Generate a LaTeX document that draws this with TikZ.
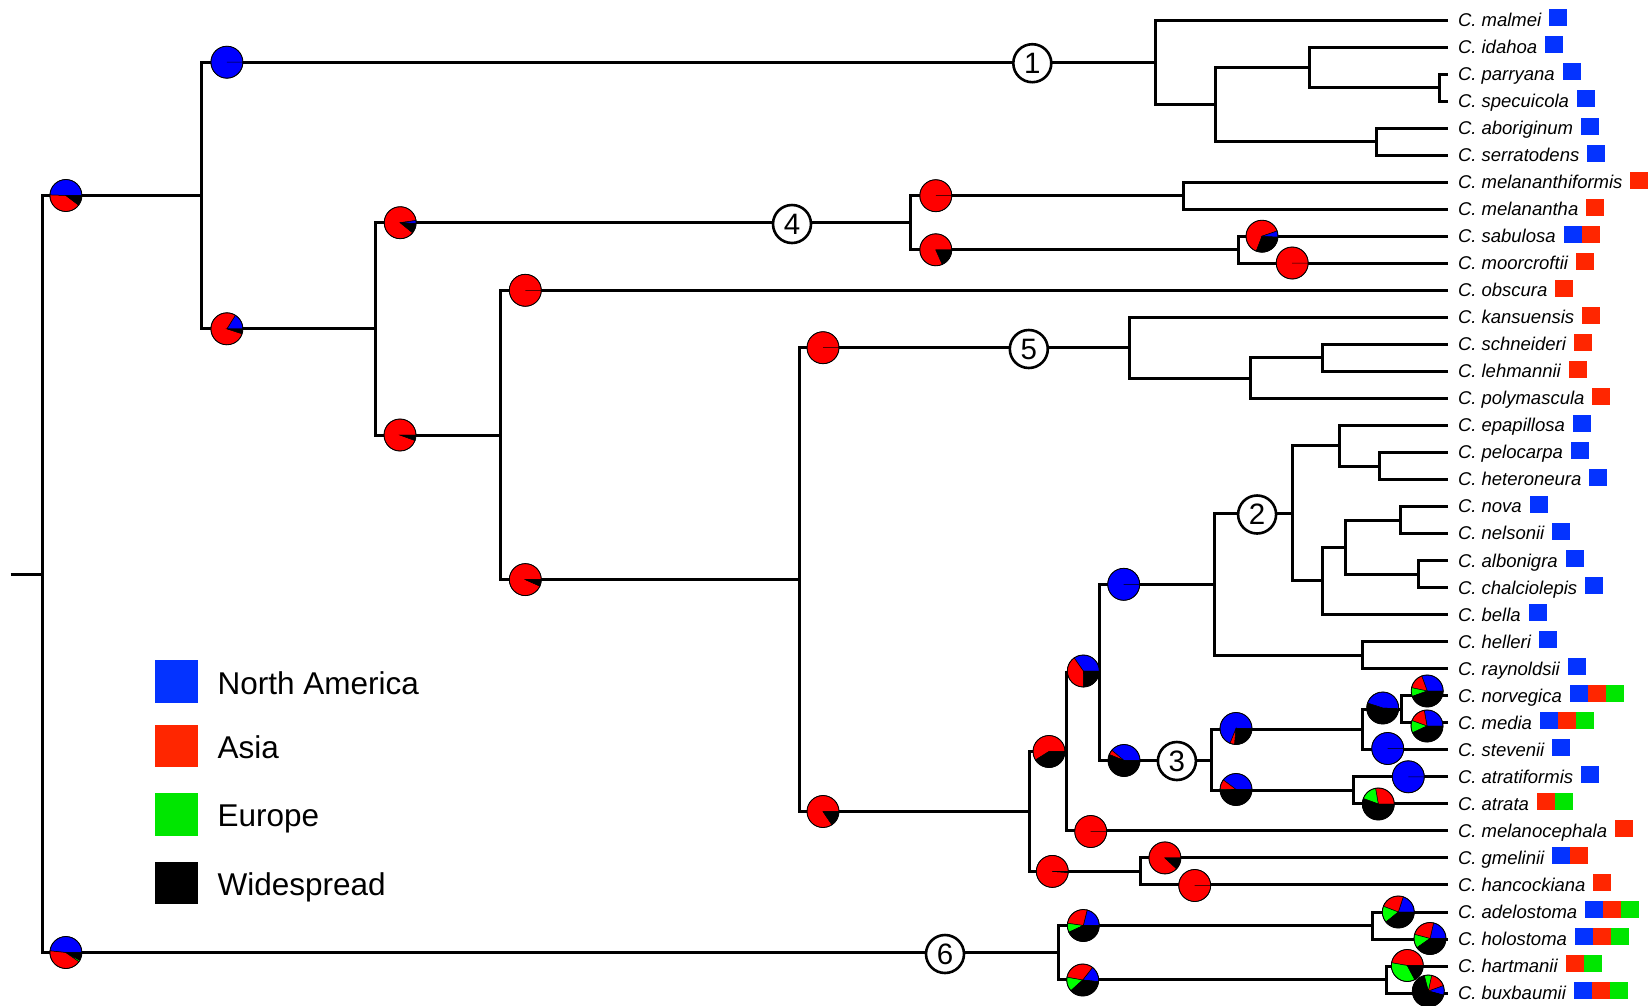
\documentclass[tikz,border=0pt]{standalone}
\usepackage{fontspec}
\newfontfamily\lsans{Liberation Sans}
\usetikzlibrary{calc}
\definecolor{pB}{RGB}{0,0,255}
\definecolor{pR}{RGB}{255,0,0}
\definecolor{pG}{RGB}{0,255,0}
\definecolor{sB}{RGB}{4,51,255}
\definecolor{sR}{RGB}{255,38,0}
\definecolor{sG}{RGB}{0,230,0}
\newcommand\mypie[3]{%
  \coordinate (#1) at #2;
  \foreach \sa/\sb/\sc in {#3} {
    \filldraw[fill=\sc, draw=black, line width=0.5pt] (#1) -- ++(\sa:16pt) arc[start angle=\sa, end angle=\sb, radius=16pt] -- cycle;
  }
  \draw[line width=0.8pt] (#1) circle[radius=16pt];
}
\newcommand\mytip[3]{%
  \pgfmathsetmacro\ty{20+27.03*(#1-1)}
  \coordinate (t#1) at (1448.3,\ty);
  \node[lab] (l#1) at (1457.8,{\ty+6.4}) {C. #2};
  \foreach \cc [count=\kk] in {#3} {
    \fill[\cc] ($(l#1.base east)+({7.7+18*(\kk-1)},0)$) rectangle ++(18,-17);
  }
}
\begin{document}
\begin{tikzpicture}[x=1pt,y=-1pt,
  tree/.style={line width=3pt, line join=miter},
  lab/.style={anchor=base west, inner sep=0pt, font=\lsans\itshape\fontsize{18.5}{20}\selectfont},
  numc/.style={circle, draw, fill=white, line width=2.6pt, minimum size=38pt, inner sep=0pt, font=\lsans\fontsize{29.5}{29.5}\selectfont},
  legsq/.style={rectangle, draw=none, minimum width=42.8pt, minimum height=42.7pt, inner sep=0pt},
  legtxt/.style={anchor=base west, inner sep=0pt, font=\lsans\fontsize{31.5}{32}\selectfont}]
\useasboundingbox (0,0) rectangle (1650,1005);

% internal nodes
\coordinate (stub) at (10.5,574.0);
\coordinate (R) at (42.1,574.0);
\coordinate (A) at (201.7,195.5);
\coordinate (F) at (1058.3,952.5);
\coordinate (C1) at (1155.4,62.2);
\coordinate (C1b) at (1215.7,104.5);
\coordinate (C1c) at (1309,67.3);
\coordinate (C1e) at (1439.5,87.6);
\coordinate (C1d) at (1376.4,141.6);
\coordinate (B) at (375.3,328.8);
\coordinate (C4) at (910.6,222.7);
\coordinate (C4a) at (1183.1,195.7);
\coordinate (C4b) at (1238.5,249.8);
\coordinate (D) at (500.9,435.0);
\coordinate (E) at (799.3,579.6);
\coordinate (C5) at (1129.1,347.7);
\coordinate (C5a) at (1250.1,378.2);
\coordinate (C5b) at (1322.4,357.9);
\coordinate (G) at (1029.3,811.5);
\coordinate (H) at (1066.7,751.5);
\coordinate (I) at (1099.7,672.1);
\coordinate (C2) at (1214.7,584.3);
\coordinate (C2a) at (1292.9,513.3);
\coordinate (C2b) at (1339.6,445.7);
\coordinate (C2c) at (1379.9,466.0);
\coordinate (C2d) at (1322.4,580.9);
\coordinate (C2e) at (1345.5,547.1);
\coordinate (C2f) at (1400.6,520.1);
\coordinate (C2g) at (1418.1,574.1);
\coordinate (C2h) at (1362.4,655.2);
\coordinate (C3) at (1211.2,760.0);
\coordinate (C3a) at (1362.4,729.6);
\coordinate (C3c) at (1401.0,709.3);
\coordinate (C3b) at (1353.2,790.4);
\coordinate (K) at (1140.3,871.4);
\coordinate (Fa) at (1372.5,925.5);
\coordinate (Fb) at (1386.6,979.6);

% tips
\mytip{1}{malmei}{sB}
\mytip{2}{idahoa}{sB}
\mytip{3}{parryana}{sB}
\mytip{4}{specuicola}{sB}
\mytip{5}{aboriginum}{sB}
\mytip{6}{serratodens}{sB}
\mytip{7}{melananthiformis}{sR}
\mytip{8}{melanantha}{sR}
\mytip{9}{sabulosa}{sB,sR}
\mytip{10}{moorcroftii}{sR}
\mytip{11}{obscura}{sR}
\mytip{12}{kansuensis}{sR}
\mytip{13}{schneideri}{sR}
\mytip{14}{lehmannii}{sR}
\mytip{15}{polymascula}{sR}
\mytip{16}{epapillosa}{sB}
\mytip{17}{pelocarpa}{sB}
\mytip{18}{heteroneura}{sB}
\mytip{19}{nova}{sB}
\mytip{20}{nelsonii}{sB}
\mytip{21}{albonigra}{sB}
\mytip{22}{chalciolepis}{sB}
\mytip{23}{bella}{sB}
\mytip{24}{helleri}{sB}
\mytip{25}{raynoldsii}{sB}
\mytip{26}{norvegica}{sB,sR,sG}
\mytip{27}{media}{sB,sR,sG}
\mytip{28}{stevenii}{sB}
\mytip{29}{atratiformis}{sB}
\mytip{30}{atrata}{sR,sG}
\mytip{31}{melanocephala}{sR}
\mytip{32}{gmelinii}{sB,sR}
\mytip{33}{hancockiana}{sR}
\mytip{34}{adelostoma}{sB,sR,sG}
\mytip{35}{holostoma}{sB,sR,sG}
\mytip{36}{hartmanii}{sR,sG}
\mytip{37}{buxbaumii}{sB,sR,sG}

% branches
\draw[tree] (stub) -- (R);
\foreach \pp/\ch in {R/A,R/F,A/C1,A/B,C1/t1,C1/C1b,C1b/C1c,C1b/C1d,C1c/t2,C1c/C1e,C1e/t3,C1e/t4,C1d/t5,C1d/t6,
  B/C4,B/D,C4/C4a,C4/C4b,C4a/t7,C4a/t8,C4b/t9,C4b/t10,D/t11,D/E,E/C5,E/G,C5/t12,C5/C5a,C5a/C5b,C5a/t15,C5b/t13,C5b/t14,
  G/H,G/K,H/I,H/t31,I/C2,I/C3,C2/C2a,C2/C2h,C2a/C2b,C2a/C2d,C2b/t16,C2b/C2c,C2c/t17,C2c/t18,C2d/C2e,C2d/t23,C2e/C2f,C2e/C2g,
  C2f/t19,C2f/t20,C2g/t21,C2g/t22,C2h/t24,C2h/t25,C3/C3a,C3/C3b,C3a/C3c,C3a/t28,C3c/t26,C3c/t27,C3b/t29,C3b/t30,
  K/t32,K/t33,F/Fa,F/Fb,Fa/t34,Fa/t35,Fb/t36,Fb/t37}
  {\draw[tree] (\pp) |- (\ch);}

% numbered clade markers
\node[numc] (n1) at (1032.3,63.2) {1};
\node[numc] (n2) at (1257.1,514.5) {2};
\node[numc] (n3) at (1176.9,761.0) {3};
\node[numc] (n4) at (792.0,224.0) {4};
\node[numc] (n5) at (1028.8,349.0) {5};
\node[numc] (n6) at (945.0,954.0) {6};

% ancestral-range pies
\mypie{pie-A}{(65.9,195.5)}{0/178/pB,178/323/pR,323/360/black}
\mypie{pie-F}{(65.9,952.5)}{0/174/pB,174/325/pR,325/331/pG,331/360/black}
\mypie{pie-C1}{(226.9,62.2)}{0/360/pB}
\mypie{pie-B}{(226.9,328.8)}{0/58/pB,58/342/pR,342/360/black}
\mypie{pie-C4}{(400.2,222.7)}{8/321/pR,321/358/black,358/368/pB}
\mypie{pie-D}{(400,435)}{0/340/pR,340/360/black}
\mypie{pie-t11}{(525.3,290.3)}{0/360/pR}
\mypie{pie-E}{(525.3,579.6)}{0/336/pR,336/360/black}
\mypie{pie-C4a}{(935.8,195.7)}{0/360/pR}
\mypie{pie-C4b}{(935.8,249.8)}{0/294/pR,294/360/black}
\mypie{pie-t9}{(1262,236.2)}{19/249/pR,249/357/black,357/379/pB}
\mypie{pie-t10}{(1292.2,263)}{0/360/pR}
\mypie{pie-C5}{(823,347.7)}{0/360/pR}
\mypie{pie-G}{(823,811.5)}{0/304/pR,304/360/black}
\mypie{pie-H}{(1049,751.5)}{0/212/pR,212/360/black}
\mypie{pie-K}{(1052.3,871.4)}{0/356/pR,356/358/black,358/360/pB}
\mypie{pie-I}{(1083.3,671)}{0/125/pB,125/270/pR,270/360/black}
\mypie{pie-t31}{(1090.7,831.5)}{0/360/pR}
\mypie{pie-C2}{(1123.7,584.3)}{0/360/pB}
\mypie{pie-C3}{(1124,760.5)}{0/140/pB,140/158/pR,158/360/black}
\mypie{pie-C3a}{(1236,728.5)}{0/248/pB,248/265/pR,265/360/black}
\mypie{pie-C3b}{(1236,789.5)}{0/143/pB,143/180/pR,180/183/pG,183/360/black}
\mypie{pie-C3c}{(1382.7,708)}{-3/162/pB,162/357/black}
\mypie{pie-t28}{(1387.7,748.5)}{0/360/pB}
\mypie{pie-t26}{(1427.2,691)}{0/110/pB,110/168/pR,168/200/pG,200/360/black}
\mypie{pie-t27}{(1427,726)}{0/100/pB,100/160/pR,160/205/pG,205/360/black}
\mypie{pie-t29}{(1408.3,776.8)}{0/360/pB}
\mypie{pie-t30}{(1378.3,804)}{0/100/pR,100/160/pG,160/360/black}
\mypie{pie-t32}{(1164.9,857.9)}{0/317/pR,317/360/black}
\mypie{pie-t33}{(1194.7,885.5)}{0/360/pR}
\mypie{pie-Fa}{(1083.3,925.5)}{0/76/pB,76/172/pR,172/205/pG,205/360/black}
\mypie{pie-Fb}{(1082.7,980)}{-6/52/pB,52/170/pR,170/222/pG,222/354/black}
\mypie{pie-t34}{(1398.3,912)}{0/72/pB,72/159/pR,159/219/pG,219/360/black}
\mypie{pie-t35}{(1430,938.5)}{0/77/pB,77/165/pR,165/215/pG,215/360/black}
\mypie{pie-t36}{(1407.3,965.5)}{0/170/pR,170/298/pG,298/360/black}
\mypie{pie-t37}{(1428.3,991)}{-15/20/pB,20/78/pR,78/105/pG,105/345/black}

% legend
\node[legsq, fill=sB] (sq1) at (176.8,681.3) {};
\node[legsq, fill=sR] (sq2) at (176.8,746.0) {};
\node[legsq, fill=sG] (sq3) at (176.8,814.7) {};
\node[legsq, fill=black] (sq4) at (176.8,883.0) {};
\node[legtxt] (lg1) at (217.5,694.5) {North America};
\node[legtxt] (lg2) at (217.5,758.0) {Asia};
\node[legtxt] (lg3) at (217.5,826.5) {Europe};
\node[legtxt] (lg4) at (217.5,895.0) {Widespread};
\end{tikzpicture}
\end{document}
